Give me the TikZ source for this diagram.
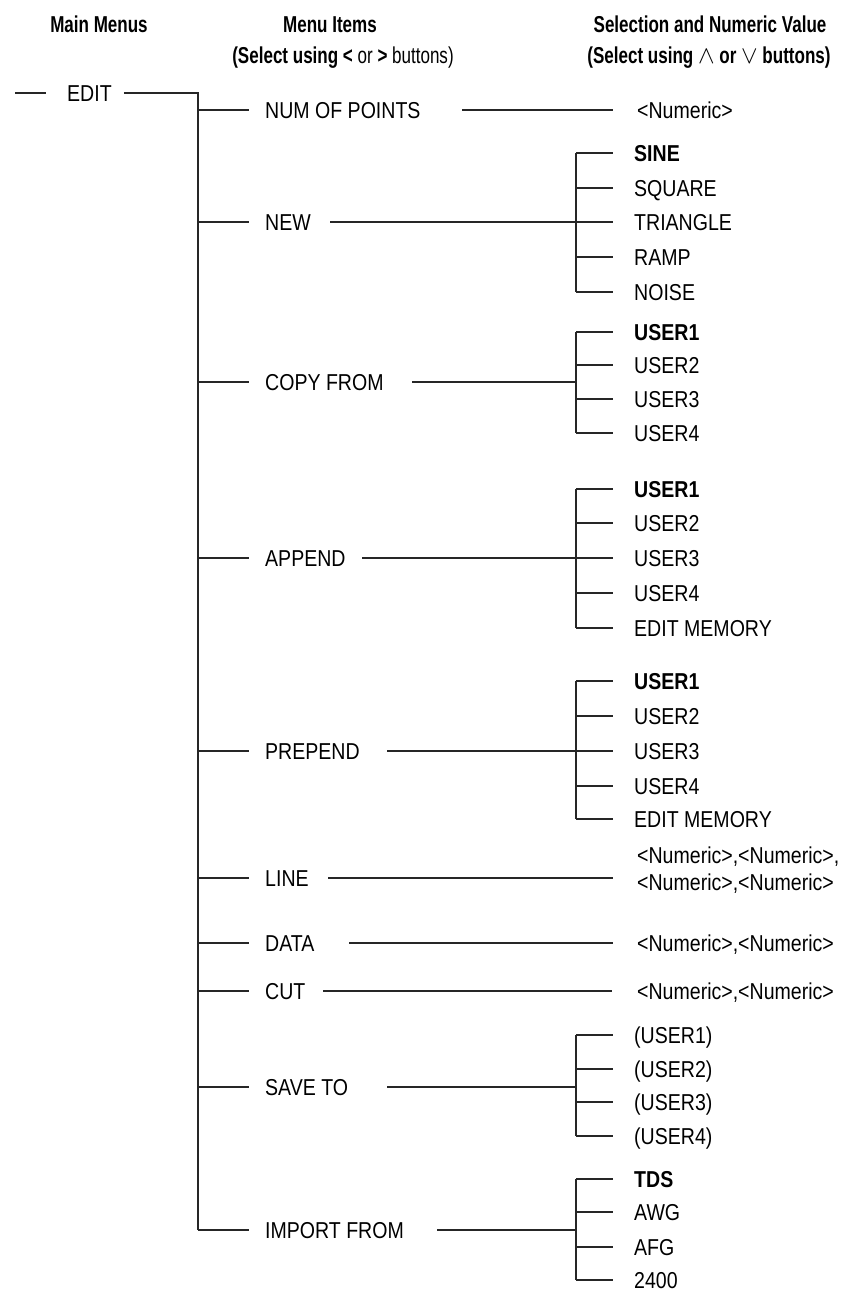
\documentclass[tikz,border=0pt]{standalone}
\usepackage{fontspec}
\setmainfont{Liberation Sans}[FakeStretch=0.85]
\newfontfamily\hdrfont{Liberation Sans}[FakeStretch=0.74]
\usetikzlibrary{calc}
\begin{document}
\begin{tikzpicture}[x=1pt,y=-1pt,
  every node/.style={font=\fontsize{23}{27}\selectfont},
  lbl/.style={anchor=west,inner sep=0pt,text height=16.5pt,text depth=0pt},
  sel/.style={lbl,font=\fontsize{23}{27}\selectfont\bfseries},
  hdr/.style={anchor=base,inner sep=0pt,font=\fontsize{23}{27}\selectfont\hdrfont},
  hdrb/.style={hdr,font=\fontsize{23}{27}\selectfont\hdrfont\bfseries},
  conn/.style={draw=black!85,line width=1.2pt}]
\useasboundingbox (0,0) rectangle (846,1292);

% headers
\node[hdrb] (hMain) at (99,32.3) {Main Menus};
\node[hdrb] (hItems) at (330,32.3) {Menu Items};
\node[hdr] (hSub1) at (343,63.3) {\textbf{(Select using <} or \textbf{>} buttons)};
\node[hdrb] (hSel) at (710,32.3) {Selection and Numeric Value};
\node[hdr] (hSub2) at (709,63.3) {\textbf{(Select using} $\wedge$ \textbf{or} $\vee$ \textbf{buttons)}};

% main menu
\coordinate (d0) at (15,93);
\coordinate (tx) at (198,0);
\coordinate (bx) at (576,0);
\node[lbl] (edit) at (67,93) {EDIT};

% menu items
\node[lbl] (iNum) at (265,110) {NUM OF POINTS};
\node[lbl] (iNew) at (265,222) {NEW};
\node[lbl] (iCopy) at (265,382) {COPY FROM};
\node[lbl] (iAppend) at (265,558) {APPEND};
\node[lbl] (iPrepend) at (265,751) {PREPEND};
\node[lbl] (iLine) at (265,878) {LINE};
\node[lbl] (iData) at (265,943) {DATA};
\node[lbl] (iCut) at (265,991) {CUT};
\node[lbl] (iSave) at (265,1087) {SAVE TO};
\node[lbl] (iImport) at (265,1230) {IMPORT FROM};

% values
\node[lbl] (vNum) at (637,110) {<Numeric>};

\node[sel] (nSine) at (634,153) {SINE};
\node[lbl] (nSquare) at (634,188) {SQUARE};
\node[lbl] (nTri) at (634,222) {TRIANGLE};
\node[lbl] (nRamp) at (634,257) {RAMP};
\node[lbl] (nNoise) at (634,292) {NOISE};

\node[sel] (cU1) at (634,332) {USER1};
\node[lbl] (cU2) at (634,365) {USER2};
\node[lbl] (cU3) at (634,399) {USER3};
\node[lbl] (cU4) at (634,433) {USER4};

\node[sel] (aU1) at (634,489) {USER1};
\node[lbl] (aU2) at (634,523) {USER2};
\node[lbl] (aU3) at (634,558) {USER3};
\node[lbl] (aU4) at (634,593) {USER4};
\node[lbl] (aEM) at (634,628) {EDIT MEMORY};

\node[sel] (pU1) at (634,681) {USER1};
\node[lbl] (pU2) at (634,716) {USER2};
\node[lbl] (pU3) at (634,751) {USER3};
\node[lbl] (pU4) at (634,786) {USER4};
\node[lbl] (pEM) at (634,819) {EDIT MEMORY};

\node[anchor=north west,inner sep=0pt,align=left] (vLine) at (637,846.5) {<Numeric>,<Numeric>,\\<Numeric>,<Numeric>};
\node[lbl] (vData) at (637,943) {<Numeric>,<Numeric>};
\node[lbl] (vCut) at (637,991) {<Numeric>,<Numeric>};

\node[lbl] (sU1) at (634,1035) {(USER1)};
\node[lbl] (sU2) at (634,1069) {(USER2)};
\node[lbl] (sU3) at (634,1102) {(USER3)};
\node[lbl] (sU4) at (634,1136) {(USER4)};

\node[sel] (mTDS) at (634,1179) {TDS};
\node[lbl] (mAWG) at (634,1212) {AWG};
\node[lbl] (mAFG) at (634,1247) {AFG};
\node[lbl] (m2400) at (634,1280) {2400};

% trunk
\draw[conn] (d0) -- ($(edit.west)+(-21pt,0)$);
\draw[conn] ($(edit.east)+(12pt,0)$) -- (edit.east -| tx) -- (iImport.west -| tx);
\foreach \n in {iNum,iNew,iCopy,iAppend,iPrepend,iLine,iData,iCut,iSave,iImport}
  \draw[conn] (\n.west -| tx) -- ($(\n.west)+(-16pt,0)$);

% single value connectors
\draw[conn] ($(iNum.west)+(197pt,0)$) -- ($(iNum.west -| vNum.west)+(-24pt,0)$);
\draw[conn] ($(iLine.west)+(63pt,0)$) -- ($(iLine.west -| vLine.west)+(-24pt,0)$);
\draw[conn] ($(iData.west)+(84pt,0)$) -- ($(iData.west -| vData.west)+(-24pt,0)$);
\draw[conn] ($(iCut.west)+(58pt,0)$) -- ($(iCut.west -| vCut.west)+(-25pt,0)$);

% bracket connectors
\draw[conn] ($(iNew.west)+(65pt,0)$) -- (iNew.west -| bx);
\draw[conn] ($(iCopy.west)+(147pt,0)$) -- (iCopy.west -| bx);
\draw[conn] ($(iAppend.west)+(97pt,0)$) -- (iAppend.west -| bx);
\draw[conn] ($(iPrepend.west)+(122pt,0)$) -- (iPrepend.west -| bx);
\draw[conn] ($(iSave.west)+(122pt,0)$) -- (iSave.west -| bx);
\draw[conn] ($(iImport.west)+(172pt,0)$) -- (iImport.west -| bx);

\draw[conn] (nSine.west -| bx) -- (nNoise.west -| bx);
\draw[conn] (cU1.west -| bx) -- (cU4.west -| bx);
\draw[conn] (aU1.west -| bx) -- (aEM.west -| bx);
\draw[conn] (pU1.west -| bx) -- (pEM.west -| bx);
\draw[conn] (sU1.west -| bx) -- (sU4.west -| bx);
\draw[conn] (mTDS.west -| bx) -- (m2400.west -| bx);

\foreach \n in {nSine,nSquare,nTri,nRamp,nNoise,cU1,cU2,cU3,cU4,aU1,aU2,aU3,aU4,aEM,pU1,pU2,pU3,pU4,pEM,sU1,sU2,sU3,sU4,mTDS,mAWG,mAFG,m2400}
  \draw[conn] (\n.west -| bx) -- ($(\n.west)+(-21pt,0)$);
\end{tikzpicture}
\end{document}
